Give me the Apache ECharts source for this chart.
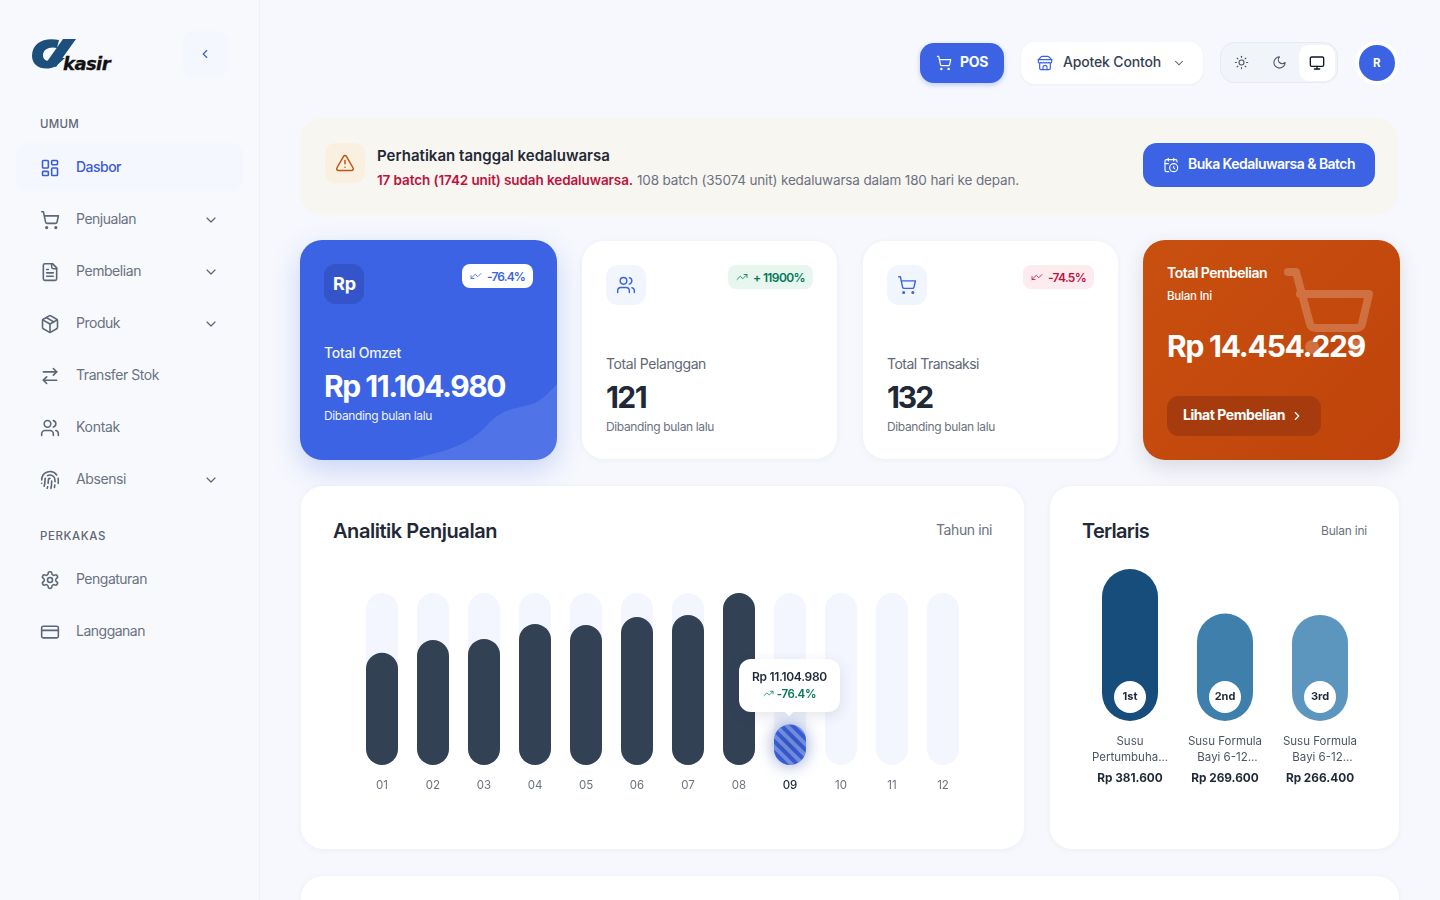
<!DOCTYPE html>
<html><head><meta charset="utf-8"><title>Dasbor</title>
<script src="https://cdn.jsdelivr.net/npm/echarts@6/dist/echarts.min.js"></script>
<style>
html,body{margin:0;padding:0;width:1440px;height:900px;overflow:hidden;background:#f6f8fd;font-family:Inter,"Noto Sans",sans-serif}
#root{position:absolute;left:0;top:0;width:1440px;height:900px;overflow:hidden}
.b{position:absolute;box-sizing:border-box}
.t{position:absolute;white-space:pre;line-height:1;transform:translateY(-50%)}
svg.i{position:absolute;fill:none;stroke-linecap:round;stroke-linejoin:round}
#chartSales,#chartTop{position:absolute}
</style></head><body><div id="root"></div>
<div id="chartSales" style="left:340px;top:570px;width:640px;height:240px"></div>
<div id="chartTop" style="left:1060px;top:550px;width:340px;height:250px"></div>
<script>
// ---------- chart data ----------
const months = ['01','02','03','04','05','06','07','08','09','10','11','12'];
const monthlySales = [30700000,34200000,34500000,38600000,38300000,40500000,41000000,47050000,11104980,0,0,0];
const activeMonth = 8;
const tooltipAmount = 'Rp 11.104.980';
const tooltipChange = '-76.4%';
const topNames = [['Susu','Pertumbuha...'],['Susu Formula','Bayi 6-12...'],['Susu Formula','Bayi 6-12...']];
const topValues = [381600,269600,266400];
const topPriceLabels = ['Rp 381.600','Rp 269.600','Rp 266.400'];
const topRanks = ['1st','2nd','3rd'];
const topColors = ['#164d7a','#3f7fab','#5c96be'];

// ---------- page chrome helpers ----------
const root = document.getElementById('root');
const FONT = 'Inter,"Noto Sans",sans-serif';
function box(x,y,w,h,css){const d=document.createElement('div');d.className='b';d.style.cssText=`left:${x}px;top:${y}px;width:${w}px;height:${h}px;`+(css||'');root.appendChild(d);return d;}
function T(x,cy,text,size,weight,color,tw,extra){
  const s=document.createElement('span');s.className='t';s.textContent=text;
  s.style.cssText=`left:${x}px;top:${cy}px;font-size:${size}px;font-weight:${weight};color:${color};`+(extra||'');
  root.appendChild(s);
  if(tw){const w=s.getBoundingClientRect().width;s.style.letterSpacing=((tw-w)/text.length).toFixed(3)+'px';}
  return s;
}
const P={
 cart:'<circle cx="8" cy="21" r="1"/><circle cx="19" cy="21" r="1"/><path d="M2.05 2.05h2l2.66 12.42a2 2 0 0 0 2 1.58h9.78a2 2 0 0 0 1.95-1.57l1.65-7.43H5.12"/>',
 file:'<path d="M15 2H6a2 2 0 0 0-2 2v16a2 2 0 0 0 2 2h12a2 2 0 0 0 2-2V7Z"/><path d="M14 2v4a2 2 0 0 0 2 2h4"/><path d="M10 9H8"/><path d="M16 13H8"/><path d="M16 17H8"/>',
 box:'<path d="M11 21.73a2 2 0 0 0 2 0l7-4A2 2 0 0 0 21 16V8a2 2 0 0 0-1-1.73l-7-4a2 2 0 0 0-2 0l-7 4A2 2 0 0 0 3 8v8a2 2 0 0 0 1 1.73z"/><path d="M12 22V12"/><path d="M3.29 7 12 12l8.71-5"/><path d="m7.5 4.27 9 5.15"/>',
 swap:'<path d="m16 3 4 4-4 4"/><path d="M20 7H4"/><path d="m8 21-4-4 4-4"/><path d="M4 17h16"/>',
 users:'<path d="M16 21v-2a4 4 0 0 0-4-4H6a4 4 0 0 0-4 4v2"/><circle cx="9" cy="7" r="4"/><path d="M22 21v-2a4 4 0 0 0-3-3.87"/><path d="M16 3.13a4 4 0 0 1 0 7.75"/>',
 finger:'<path d="M12 10a2 2 0 0 0-2 2c0 1.02-.1 2.51-.26 4"/><path d="M14 13.12c0 2.38 0 6.38-1 8.88"/><path d="M17.29 21.02c.12-.6.43-2.3.5-3.02"/><path d="M2 12a10 10 0 0 1 18-6"/><path d="M2 16h.01"/><path d="M21.8 16c.2-2 .131-5.354 0-6"/><path d="M5 19.5C5.5 18 6 15 6 12a6 6 0 0 1 .34-2"/><path d="M8.65 22c.21-.66.45-1.32.57-2"/><path d="M9 6.8a6 6 0 0 1 9 5.2v2"/>',
 gear:'<path d="M12.22 2h-.44a2 2 0 0 0-2 2v.18a2 2 0 0 1-1 1.73l-.43.25a2 2 0 0 1-2 0l-.15-.08a2 2 0 0 0-2.73.73l-.22.38a2 2 0 0 0 .73 2.73l.15.1a2 2 0 0 1 1 1.72v.51a2 2 0 0 1-1 1.74l-.15.09a2 2 0 0 0-.73 2.73l.22.38a2 2 0 0 0 2.73.73l.15-.08a2 2 0 0 1 2 0l.43.25a2 2 0 0 1 1 1.73V20a2 2 0 0 0 2 2h.44a2 2 0 0 0 2-2v-.18a2 2 0 0 1 1-1.73l.43-.25a2 2 0 0 1 2 0l.15.08a2 2 0 0 0 2.73-.73l.22-.39a2 2 0 0 0-.73-2.73l-.15-.08a2 2 0 0 1-1-1.74v-.5a2 2 0 0 1 1-1.74l.15-.09a2 2 0 0 0 .73-2.73l-.22-.38a2 2 0 0 0-2.73-.73l-.15.08a2 2 0 0 1-2 0l-.43-.25a2 2 0 0 1-1-1.73V4a2 2 0 0 0-2-2z"/><circle cx="12" cy="12" r="3"/>',
 card:'<rect x="2" y="5" width="20" height="14" rx="2"/><path d="M2 10h20"/>',
 grid:'<rect x="3" y="3" width="7" height="9" rx="1"/><rect x="14" y="3" width="7" height="5" rx="1"/><rect x="14" y="12" width="7" height="9" rx="1"/><rect x="3" y="16" width="7" height="5" rx="1"/>',
 down:'<path d="m6 9 6 6 6-6"/>',left:'<path d="m15 18-6-6 6-6"/>',right:'<path d="m9 18 6-6-6-6"/>',
 sun:'<circle cx="12" cy="12" r="4"/><path d="M12 2v2"/><path d="M12 20v2"/><path d="m4.93 4.93 1.41 1.41"/><path d="m17.66 17.66 1.41 1.41"/><path d="M2 12h2"/><path d="M20 12h2"/><path d="m6.34 17.66-1.41 1.41"/><path d="m19.07 4.93-1.41 1.41"/>',
 moon:'<path d="M12 3a6 6 0 0 0 9 9 9 9 0 1 1-9-9Z"/>',
 monitor:'<rect x="2" y="3" width="20" height="14" rx="2"/><path d="M8 21h8"/><path d="M12 17v4"/>',
 store:'<path d="m2 7 4.41-4.41A2 2 0 0 1 7.83 2h8.34a2 2 0 0 1 1.42.59L22 7"/><path d="M4 12v8a2 2 0 0 0 2 2h12a2 2 0 0 0 2-2v-8"/><path d="M15 22v-4a2 2 0 0 0-2-2h-2a2 2 0 0 0-2 2v4"/><path d="M2 7h20"/><path d="M22 7v3a2 2 0 0 1-2 2a2.7 2.7 0 0 1-1.59-.63.7.7 0 0 0-.82 0A2.7 2.7 0 0 1 16 12a2.7 2.7 0 0 1-1.59-.63.7.7 0 0 0-.82 0A2.7 2.7 0 0 1 12 12a2.7 2.7 0 0 1-1.59-.63.7.7 0 0 0-.82 0A2.7 2.7 0 0 1 8 12a2.7 2.7 0 0 1-1.59-.63.7.7 0 0 0-.82 0A2.7 2.7 0 0 1 4 12a2 2 0 0 1-2-2V7"/>',
 warn:'<path d="m21.73 18-8-14a2 2 0 0 0-3.48 0l-8 14A2 2 0 0 0 4 21h16a2 2 0 0 0 1.73-3"/><path d="M12 9v4"/><path d="M12 17h.01"/>',
 cal:'<path d="M21 7.5V6a2 2 0 0 0-2-2H5a2 2 0 0 0-2 2v14a2 2 0 0 0 2 2h3.5"/><path d="M16 2v4"/><path d="M8 2v4"/><path d="M3 10h5"/><path d="M17.5 17.5 16 16.3V14"/><circle cx="16" cy="16" r="6"/>',
 up:'<polyline points="22 7 13.5 15.5 8.5 10.5 2 17"/><polyline points="16 7 22 7 22 13"/>',
 dn:'<polyline points="2 17 10.5 8.5 15.5 13.5 22 7"/><polyline points="8 17 2 17 2 11"/>'
};
function I(name,cx,cy,size,color,sw){
  const e=document.createElementNS('http://www.w3.org/2000/svg','svg');e.setAttribute('class','i');e.setAttribute('viewBox','0 0 24 24');
  e.style.cssText=`left:${cx-size/2}px;top:${cy-size/2}px;width:${size}px;height:${size}px;stroke:${color};stroke-width:${sw||2}`;
  e.innerHTML=P[name];root.appendChild(e);
}
function svgRaw(x,y,w,h,inner){
  const e=document.createElementNS('http://www.w3.org/2000/svg','svg');e.setAttribute('class','i');
  e.setAttribute('viewBox',`0 0 ${w} ${h}`);e.style.cssText=`left:${x}px;top:${y}px;width:${w}px;height:${h}px`;e.innerHTML=inner;root.appendChild(e);return e;
}
const BLUE='#3b63e4',INK='#1f2937',GREY='#6b7280',SOFT='#f1f5fe',FAINT='#f4f7fe';

// ---------- sidebar ----------
box(0,0,260,900,'background:#f7f9fd;border-right:1px solid #eef1f7');
svgRaw(30,36,50,40,'<path d="M29 4 C14 1 2 7 2 20 C2 31 15 36 26 30 L35 22 L25 22 C19 27 13 25 13 19 C13 13 20 10 27 12 Z" fill="#1d4f7c"/><path d="M26 31 L46 3 L33 3 L16 27 Z" fill="#1d4f7c"/>');
T(63,63.5,'kasir',18,800,'#111',47,'font-style:italic;font-family:"DejaVu Sans";-webkit-text-stroke:.3px #111');
box(183,31,45,46,`background:${FAINT};border-radius:10px`);
I('left',205,54,14,'#3b5bdb',2);
T(40,125,'UMUM',11.5,500,'#5f6875',39);
box(16,143,227,48,`background:${FAINT};border-radius:12px`);
I('grid',50,168,20,'#3b5bdb',1.9);
T(76,167,'Dasbor',14,500,'#3b5bdb',45);
const nav=[['cart','Penjualan',219,60,1],['file','Pembelian',271,65,1],['box','Produk',323,44,1],['swap','Transfer Stok',375,83,0],['users','Kontak',427,44,0],['finger','Absensi',479,50,1],['gear','Pengaturan',579,71,0],['card','Langganan',631,69,0]];
nav.forEach(n=>{I(n[0],50,n[2]+.5,20,'#5c6675',1.9);T(76,n[2],n[1],14,400,GREY,n[3]);if(n[4])I('down',211,n[2]+.5,16,'#5c6675',1.8);});
T(40,537,'PERKAKAS',11.5,500,'#5f6875',66);

// ---------- top bar ----------
box(920,43,84,40,`background:${BLUE};border-radius:14px;box-shadow:0 2px 5px rgba(59,99,228,.3)`);
I('cart',944,63,16,'#fff',1.8);
T(960,62,'POS',14,700,'#fff',28);
box(1021,42,182,42,'background:#fff;border-radius:14px;box-shadow:0 1px 3px rgba(30,50,100,.05)');
I('store',1045,62.5,16,BLUE,1.8);
T(1063,62,'Apotek Contoh',14,500,'#374151',98);
I('down',1179,62.5,14,'#4b5563',1.8);
box(1220,42,118,41,'background:#f1f4f9;border:1px solid #e6eaf2;border-radius:14px');
I('sun',1241,62.5,15,'#4b5563',1.7);
I('moon',1279,62.5,15,'#4b5563',1.7);
box(1299,45,36,36,'background:#fff;border-radius:10px');
I('monitor',1317,62.5,16,'#111827',2);
box(1355,41,44,44,'background:#fff;border-radius:50%');
box(1359,45,36,36,`background:${BLUE};border-radius:50%`);
T(1373,63.5,'R',11.5,700,'#fff',8);

// ---------- expiry banner ----------
box(300,118,1098,97,'background:#f8f6f1;border-radius:22px');
box(325,143,40,40,'background:#faf0e2;border-radius:10px');
I('warn',345,163,20,'#c2550d',1.8);
T(377,154.5,'Perhatikan tanggal kedaluwarsa',15,600,INK,233);
T(377,180.5,'17 batch (1742 unit) sudah kedaluwarsa.',13.5,600,'#be123c',256);
T(637,180.5,'108 batch (35074 unit) kedaluwarsa dalam 180 hari ke depan.',13.5,400,GREY,382);
box(1143,143,232,44,`background:${BLUE};border-radius:14px`);
I('cal',1171,165,16,'#fff',1.7);
T(1188,164,'Buka Kedaluwarsa & Batch',14,600,'#fff',167);

// ---------- KPI cards ----------
const c1=box(300,240,257,220,`background:${BLUE};border-radius:22px;box-shadow:0 10px 28px rgba(59,99,228,.24);overflow:hidden`);
c1.innerHTML='<svg width="257" height="220" style="position:absolute;left:0;top:0"><path d="M108 220 C150 210 170 205 190 182 C208 164 225 170 240 160 C250 152 253 148 257 144 L257 220 Z" fill="#fff" fill-opacity=".11"/></svg>';
box(324,264,40,40,'background:#3355c9;border-radius:12px');
T(333,284,'Rp',18,700,'#fff',23);
box(462,264,71,24,'background:#fff;border-radius:8px');
I('dn',476,276,12,BLUE,1.6);
T(487,276.5,'-76.4%',12,600,BLUE,38);
T(324,353,'Total Omzet',14,500,'#f1f4ff',77);
T(324,386,'Rp 11.104.980',30,700,'#fff',181);
T(324,416,'Dibanding bulan lalu',12,400,'#eef2ff',108);

function whiteCard(x,icon,badgeX,badgeW,badgeBg,badgeC,badgeIcon,badgeText,badgeTw,label,labelTw,val,valTw){
  box(x,241,255,218,'background:#fff;border-radius:22px;box-shadow:0 1px 6px rgba(30,50,100,.05)');
  box(x+24,265,40,40,`background:${SOFT};border-radius:12px`);
  I(icon,x+44,285,20,BLUE,1.7);
  box(badgeX,265,badgeW,24,`background:${badgeBg};border-radius:8px`);
  I(badgeIcon,badgeX+14,277,12,badgeC,1.6);
  T(badgeX+25,277.5,badgeText,12,600,badgeC,badgeTw);
  T(x+24,364,label,14,400,'#5f6875',labelTw);
  T(x+24,397,val,30,700,INK,valTw);
  T(x+24,427,'Dibanding bulan lalu',12,400,GREY,108);
}
whiteCard(582,'users',728,85,'#e8f6f0','#047857','up','+ 11900%',52,'Total Pelanggan',100,'121',40);
whiteCard(863,'cart',1023,71,'#fdecef','#be123c','dn','-74.5%',38,'Total Transaksi',92,'132',45);

box(1143,240,257,220,'background:linear-gradient(135deg,#c8500f,#bf430b);border-radius:22px;box-shadow:0 8px 20px rgba(60,60,80,.15)');
svgRaw(1280,262,100,100,'<g fill="none" stroke="#fff" stroke-opacity=".22" stroke-width="8" stroke-linecap="round" stroke-linejoin="round"><path d="M8 10 H16 L30 62 Q31 66 36 66 H76 Q81 66 82 62 L89 32 H20"/></g><circle cx="32" cy="85" r="7" fill="#fff" fill-opacity=".22"/><circle cx="76" cy="85" r="7" fill="#fff" fill-opacity=".22"/>');
T(1167,273,'Total Pembelian',14,600,'#fff',100);
T(1167,296.5,'Bulan Ini',11.5,500,'#fff',45);
T(1167,345.5,'Rp 14.454.229',30,700,'#fff',198);
box(1167,396,154,40,'background:#a63c0e;border-radius:12px');
T(1183,415,'Lihat Pembelian',14,700,'#fff',102);
I('right',1297,416,14,'#fff',2);

// ---------- chart cards ----------
box(301,486,723,363,'background:#fff;border-radius:22px;box-shadow:0 1px 6px rgba(30,50,100,.05)');
T(333,530.5,'Analitik Penjualan',20,600,INK,164);
T(936,529.5,'Tahun ini',14,400,GREY,56);
box(1050,486,349,363,'background:#fff;border-radius:22px;box-shadow:0 1px 6px rgba(30,50,100,.05)');
T(1082,530.5,'Terlaris',20,600,INK,67);
T(1321,531,'Bulan ini',12,400,GREY,46);
box(301,876,1098,60,'background:#fff;border-radius:22px;box-shadow:0 1px 6px rgba(30,50,100,.05)');

// ---------- sales chart ----------
const sales=echarts.init(document.getElementById('chartSales'),null,{renderer:'canvas'});
const trendIcon=`<svg viewBox="0 0 24 24" width="11" height="11" fill="none" stroke="#047857" stroke-width="1.6" stroke-linecap="round" stroke-linejoin="round" style="vertical-align:-1px;margin-right:3px">${P.up}</svg>`;
sales.setOption({
  animation:false,
  grid:{left:16.5,top:23,width:612,height:172},
  tooltip:{trigger:'item',alwaysShowContent:true,transitionDuration:0,position:'top',padding:[9,13],
    backgroundColor:'#fff',borderWidth:0,borderRadius:12,
    extraCssText:'box-shadow:0 4px 14px rgba(30,50,100,.12);margin-top:-4px;margin-left:-1px;',
    formatter:()=>`<div style="font:600 12px ${FONT.replace(/"/g,"'")};color:#1f2937;text-align:center;line-height:17px;letter-spacing:-.3px">${tooltipAmount}<br><span style="color:#047857;font-size:11.5px">${trendIcon}${tooltipChange}</span></div>`},
  xAxis:{type:'category',data:months.map((m,i)=>i===activeMonth?{value:m,textStyle:{color:'#1f2937',fontWeight:500}}:m),
    axisLine:{show:false},axisTick:{show:false},
    axisLabel:{color:'#6b7280',fontSize:11.5,fontFamily:FONT,margin:15,interval:0}},
  yAxis:{type:'value',show:false,min:0,max:47050000},
  series:[{type:'bar',barWidth:32,showBackground:true,backgroundStyle:{color:'#f3f6fe',borderRadius:16},
    data:monthlySales.map((v,i)=>i===activeMonth?{value:v,itemStyle:{color:BLUE,shadowBlur:16,shadowColor:'rgba(59,99,228,.4)',
      decal:{symbol:'rect',dashArrayX:[1,0],dashArrayY:[4,4],rotation:Math.PI/4,color:'rgba(255,255,255,.3)'}}}:v),
    itemStyle:{color:'#334155',borderRadius:16}}],
  aria:{enabled:false}
});
sales.dispatchAction({type:'showTip',seriesIndex:0,dataIndex:activeMonth});

// ---------- best sellers chart ----------
const top3=echarts.init(document.getElementById('chartTop'));
top3.setOption({
  animation:false,
  grid:{left:22.5,top:19,width:285,height:152},
  tooltip:{show:false},
  xAxis:{type:'category',data:topPriceLabels.map((p,i)=>i),axisLine:{show:false},axisTick:{show:false},
    axisLabel:{interval:0,margin:13,fontFamily:FONT,
      formatter:(v,i)=>`{n|${topNames[i][0]}}\n{${i?'s':'n'}|${topNames[i][1]}}\n{p|${topPriceLabels[i]}}`,
      rich:{n:{fontSize:11.5,lineHeight:16,color:'#4b5563',fontFamily:FONT},
        s:{fontSize:11.5,lineHeight:16,color:'#4b5563',fontFamily:FONT,padding:[0,0,0,5]},
        p:{fontSize:11.8,fontWeight:700,lineHeight:24,color:'#1f2937',fontFamily:FONT}}}},
  yAxis:{type:'value',show:false,min:0,max:381600},
  series:[{type:'bar',barWidth:56,data:topValues.map((v,i)=>({value:v,itemStyle:{color:topColors[i]}})),
    itemStyle:{borderRadius:28},
    label:{show:true,position:'insideBottom',distance:8,formatter:p=>topRanks[p.dataIndex],width:32,height:32,lineHeight:32,align:'center',
      backgroundColor:'#fff',borderRadius:16,color:'#1f2937',fontSize:11,fontWeight:700,fontFamily:FONT}}]
});
</script></body></html>
